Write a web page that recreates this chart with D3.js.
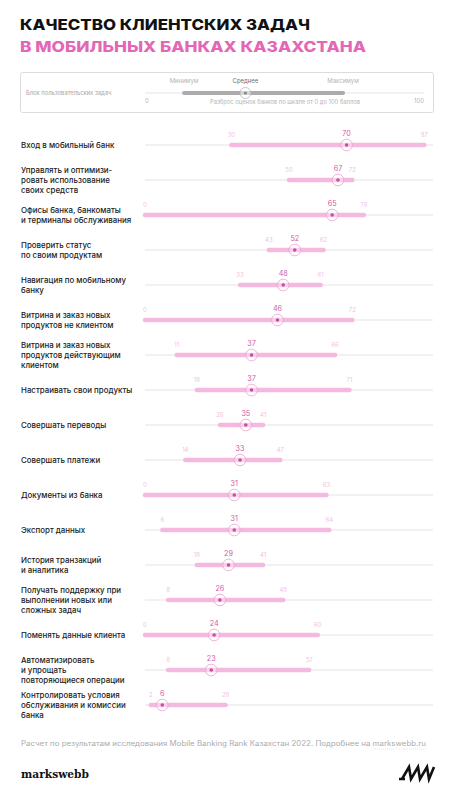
<!DOCTYPE html>
<html><head><meta charset="utf-8">
<script src="https://cdn.jsdelivr.net/npm/d3@7"></script>
<style>
html,body{margin:0;padding:0;background:#fff;}
svg{display:block;font-family:Inter,"Noto Sans",sans-serif;}
</style></head>
<body>
<svg id="chart" width="454" height="800"></svg>
<script>
const categories = [
  ["Вход в мобильный банк"],
  ["Управлять и оптимизи-","ровать использование","своих средств"],
  ["Офисы банка, банкоматы","и терминалы обслуживания"],
  ["Проверить статус","по своим продуктам"],
  ["Навигация по мобильному","банку"],
  ["Витрина и заказ новых","продуктов не клиентом"],
  ["Витрина и заказ новых","продуктов действующим","клиентом"],
  ["Настраивать свои продукты"],
  ["Совершать переводы"],
  ["Совершать платежи"],
  ["Документы из банка"],
  ["Экспорт данных"],
  ["История транзакций","и аналитика"],
  ["Получать поддержку при","выполнении новых или","сложных задач"],
  ["Поменять данные клиента"],
  ["Автоматизировать","и упрощать","повторяющиеся операции"],
  ["Контролировать условия","обслуживания и комиссии","банка"]
];
const minValues = [30,50,0,43,33,0,11,18,26,14,0,6,18,8,0,8,2];
const avgValues = [70,67,65,52,48,46,37,37,35,33,31,31,29,26,24,23,6];
const maxValues = [97,72,76,62,61,72,66,71,41,47,63,64,41,48,60,57,28];
const legendLabels = ["Минимум","Среднее","Максимум"];
const legendExample = [14,36,71];
const axisTicks = [0,100];

const svg = d3.select("#chart");
const C = {pink:"#E466B6", bar:"#F4B9DF", ring:"#EC9FD2", dot:"#CC4C9F", val:"#D25AA8", minmax:"#F1C2DF", grid:"#E3E3E3", text:"#222"};

// Title
svg.append("text").attr("x",20).attr("y",30).attr("font-size",14.5).attr("font-weight",800)
  .attr("fill","#111").attr("textLength",290).attr("lengthAdjust","spacingAndGlyphs")
  .text("КАЧЕСТВО КЛИЕНТСКИХ ЗАДАЧ");
svg.append("text").attr("x",20).attr("y",52).attr("font-size",14.5).attr("font-weight",800)
  .attr("fill",C.pink).attr("textLength",346).attr("lengthAdjust","spacingAndGlyphs")
  .text("В МОБИЛЬНЫХ БАНКАХ КАЗАХСТАНА");

const x = d3.scaleLinear().domain([0,100]).range([145,433]);

// Legend box
const lg = svg.append("g");
lg.append("rect").attr("x",20.5).attr("y",72.5).attr("width",413).attr("height",40).attr("rx",2)
  .attr("fill","none").attr("stroke","#DCDCDC");
lg.append("text").attr("x",26).attr("y",95).attr("font-size",5.8).attr("fill","#A8A8A8").text("Блок пользовательских задач");
const lx = d3.scaleLinear().domain([0,100]).range([145,424]);
const ly = 93;
lg.append("line").attr("x1",lx(0)).attr("x2",lx(100)).attr("y1",ly).attr("y2",ly).attr("stroke","#DDD").attr("stroke-width",0.8);
lg.append("line").attr("x1",lx(legendExample[0])).attr("x2",lx(legendExample[2])).attr("y1",ly).attr("y2",ly)
  .attr("stroke","#ABABAB").attr("stroke-width",4).attr("stroke-linecap","round");
lg.append("circle").attr("cx",lx(legendExample[1])).attr("cy",ly).attr("r",5.5).attr("fill","rgba(255,255,255,0.5)").attr("stroke","#B5B5B5").attr("stroke-width",0.8);
lg.append("circle").attr("cx",lx(legendExample[1])).attr("cy",ly).attr("r",1.6).attr("fill","#888");
legendLabels.forEach((t,i)=>{
  lg.append("text").attr("x",lx(legendExample[i])).attr("y",83).attr("text-anchor","middle")
    .attr("font-size",6).attr("fill", i===1?"#6E6E6E":"#B5B5B5").text(t);
});
axisTicks.forEach((t,i)=>{
  lg.append("text").attr("x",lx(t)).attr("y",103).attr("text-anchor",i===0?"start":"end")
    .attr("font-size",6).attr("fill","#B5B5B5").text(t);
});
lg.append("text").attr("x",285).attr("y",104).attr("text-anchor","middle").attr("font-size",5.8).attr("fill","#B5B5B5")
  .text("Разброс оценок банков по шкале от 0 до 100 баллов");

// Rows
const y = d3.scalePoint().domain(d3.range(categories.length)).range([145, 705]);
const rows = svg.append("g").selectAll("g").data(categories).join("g")
  .attr("transform",(d,i)=>`translate(0,${y(i)})`);

rows.append("line").attr("x1",x(0)).attr("x2",x(100)).attr("stroke",C.grid).attr("stroke-width",1);
rows.each(function(lines,i){
  const g = d3.select(this);
  const lh = 10;
  const t = g.append("text").attr("font-size",7.9).attr("font-weight",500).attr("fill",C.text);
  lines.forEach((l,k)=>{
    t.append("tspan").attr("x",21).attr("y",(k-(lines.length-1)/2)*lh+2.8).text(l);
  });
  g.append("line").attr("x1",x(minValues[i])).attr("x2",x(maxValues[i]))
    .attr("stroke",C.bar).attr("stroke-width",4.5).attr("stroke-linecap","round");
  g.append("circle").attr("cx",x(avgValues[i])).attr("r",5.8).attr("fill","rgba(255,255,255,0.35)").attr("stroke",C.ring).attr("stroke-width",0.8);
  g.append("circle").attr("cx",x(avgValues[i])).attr("r",1.8).attr("fill",C.dot);
  g.append("text").attr("x",x(minValues[i])).attr("y",-8).attr("text-anchor","middle").attr("font-size",6).attr("fill",C.minmax).text(minValues[i]);
  g.append("text").attr("x",x(maxValues[i])).attr("y",-8).attr("text-anchor","middle").attr("font-size",6).attr("fill",C.minmax).text(maxValues[i]);
  g.append("text").attr("x",x(avgValues[i])).attr("y",-9).attr("text-anchor","middle").attr("font-size",7.2).attr("font-weight",400).attr("fill",C.val).text(avgValues[i]);
});

// Footer
const ft = svg.append("text").attr("x",21).attr("y",746).attr("font-size",7.3).attr("fill","#ABABAB")
  .attr("textLength",405).attr("lengthAdjust","spacingAndGlyphs");
ft.append("tspan").text("Расчет по результатам исследования Mobile Banking Rank Казахстан 2022. Подробнее на ");
ft.append("tspan").text("markswebb.ru");
svg.append("line").attr("x1",373).attr("x2",426).attr("y1",749).attr("y2",749).attr("stroke","#D5D5D5").attr("stroke-width",0.6).attr("stroke-dasharray","1,1");
svg.append("text").attr("x",21).attr("y",778).attr("font-family","'DejaVu Serif','Liberation Serif',serif").attr("font-weight",700)
  .attr("font-size",11).attr("fill","#111").attr("textLength",68).attr("lengthAdjust","spacingAndGlyphs").text("markswebb");
// MW logo
svg.append("path").attr("d","M399,779 L405,779 M402,779 L409,767 L411,779 L418,767 L420,779 L427,767 L429,779 L434,767")
  .attr("fill","none").attr("stroke","#111").attr("stroke-width",2.6).attr("stroke-linejoin","miter");
</script>
</body></html>
